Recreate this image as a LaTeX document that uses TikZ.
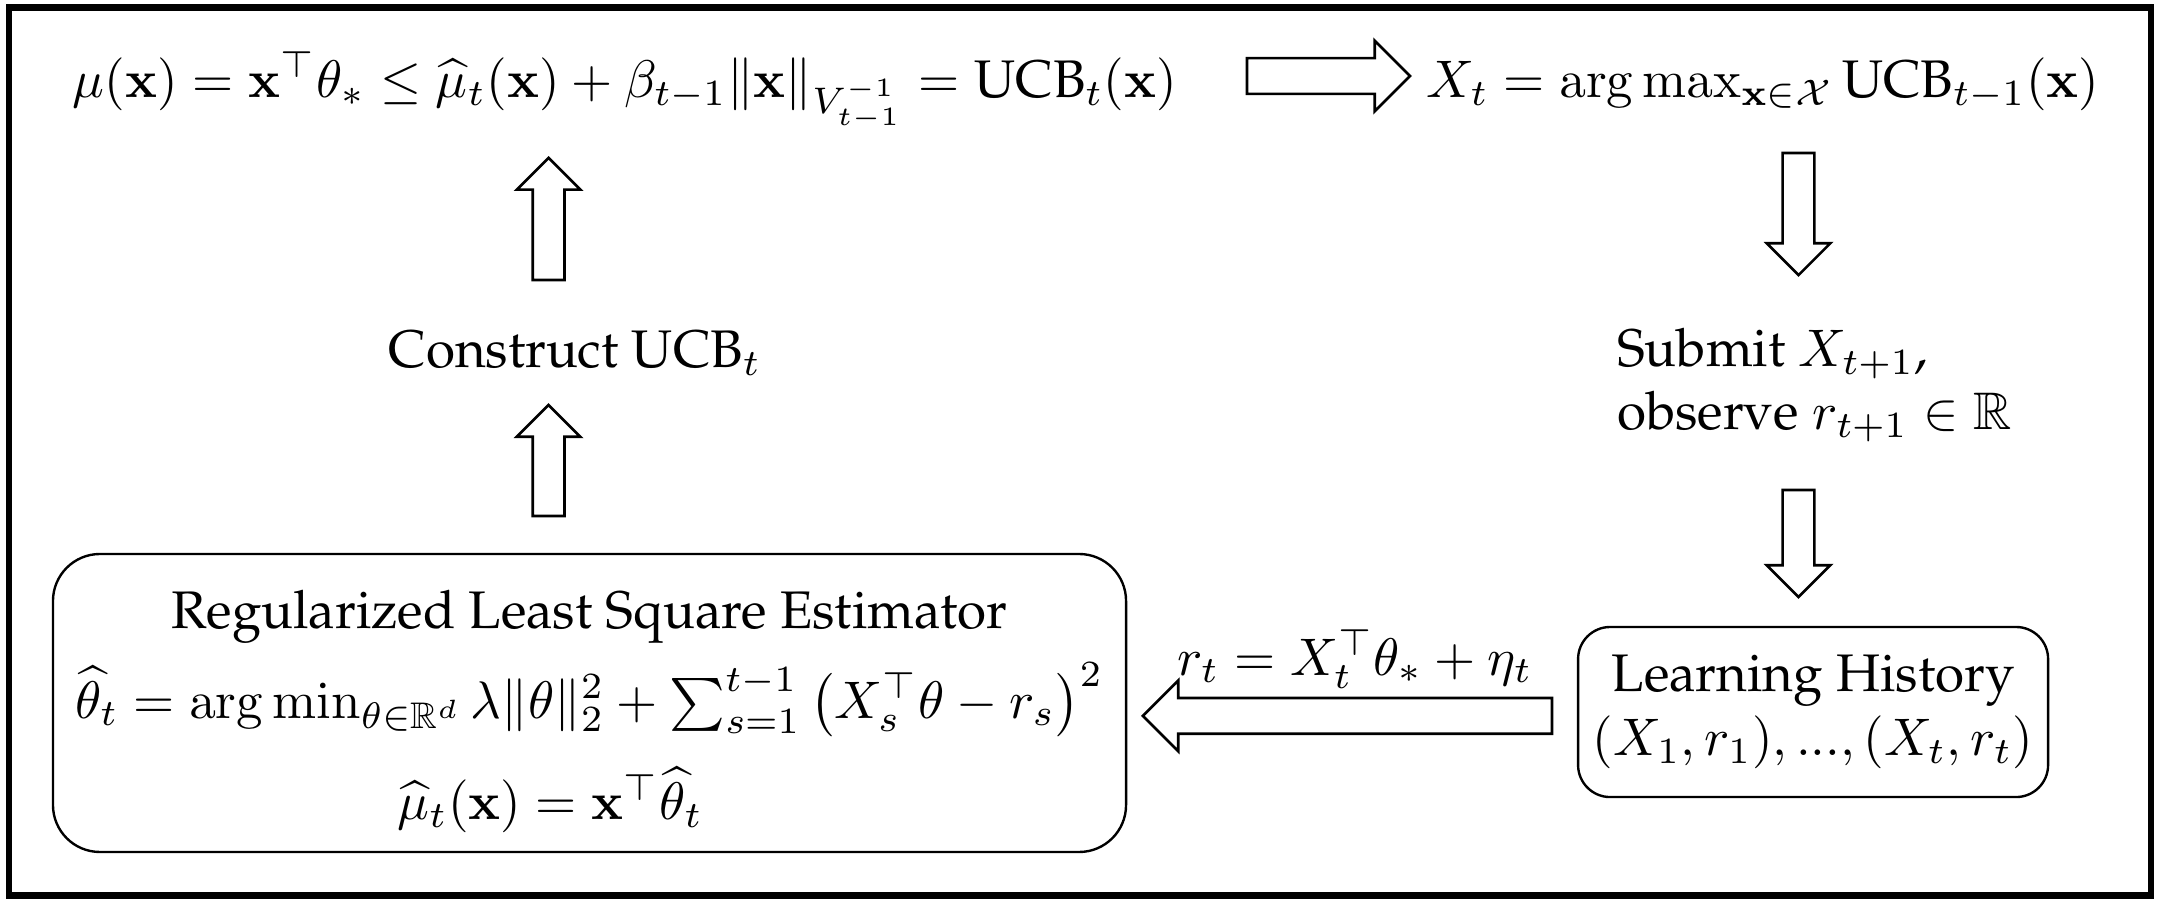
\documentclass[tikz,border=0pt]{standalone}
\usepackage{amsmath, amssymb}
\usepackage[T1]{fontenc}
\renewcommand{\rmdefault}{ppl}
\usepackage{tikz}
\usetikzlibrary{calc, shapes.arrows}

\begin{document}
\begin{tikzpicture}[
    fatarrow/.style={draw, line width=0.5pt, single arrow, single arrow head extend=0.106cm,
                     inner xsep=0pt, inner ysep=0.0965cm, outer sep=0pt, anchor=tail},
    widearrow/.style={fatarrow, inner ysep=0.110cm, single arrow head extend=0.116cm},
    roundbox/.style={draw, line width=0.45pt, rounded corners=#1, inner sep=0pt}
  ]
  % Frame
  \useasboundingbox (0,0) rectangle (14.352,6.0);
  \draw[line width=1.2pt] (0.06,0.05) rectangle (14.29,5.95);

  % Top row
  \node[anchor=base] (ucb) at (4.153,5.355)
    {$\mu(\mathbf{x}) = \mathbf{x}^\top\theta_* \le \widehat{\mu}_t(\mathbf{x}) + \beta_{t-1}\|\mathbf{x}\|_{V_{t-1}^{-1}} = \text{UCB}_t(\mathbf{x})$};
  \node[anchor=base] (argmax) at (11.714,5.355)
    {$X_t = \arg\max_{\mathbf{x}\in\mathcal{X}} \text{UCB}_{t-1}(\mathbf{x})$};

  % Middle row
  \node[anchor=base] (construct) at (3.821,3.561) {Construct UCB$_t$};
  \node[anchor=base west, align=left, inner xsep=0pt] (submit) at (10.738,3.143)
    {Submit $X_{t+1}$,\\ observe $r_{t+1}\in\mathbb{R}$};

  % Estimator box
  \node[roundbox=0.312cm, minimum width=7.13cm, minimum height=1.98cm] (reg) at (3.917,1.329) {};
  \node[anchor=base] (regtitle) at ($(reg.center)+(0,0.498)$) {Regularized Least Square Estimator};
  \node[anchor=base] (regmin) at ($(reg.center)+(0,-0.100)$)
    {$\widehat{\theta}_t = \arg\min_{\theta\in\mathbb{R}^d} \lambda\|\theta\|_2^2 + \sum_{s=1}^{t-1}\left(X_s^\top\theta - r_s\right)^2$};
  \node[anchor=base] (regmu) at ($(reg.center)+(-0.26,-0.777)$)
    {$\widehat{\mu}_t(\mathbf{x}) = \mathbf{x}^\top\widehat{\theta}_t$};

  % History box
  \node[roundbox=0.213cm, minimum width=3.123cm, minimum height=1.13cm, align=center] (hist) at (12.047,1.269)
    {Learning History\\ $(X_1,r_1),...,(X_t,r_t)$};
  \node[anchor=base] (reward) at (9.003,1.515) {$r_t = X_t^\top\theta_* + \eta_t$};

  % Block arrows (placed by their tails)
  \node[widearrow, minimum height=1.083cm] (toargmax) at (8.286,5.495) {};
  \node[widearrow, minimum height=2.718cm, rotate=180] (toreg) at (10.312,1.243) {};
  \foreach \name/\x/\y/\len/\ang in {up1/3.645/4.140/0.811/90, up2/3.645/2.571/0.738/90,
                                     down1/11.950/4.983/0.811/-90, down2/11.950/2.744/0.711/-90} {
    \node[fatarrow, minimum height=\len cm, rotate=\ang] (\name) at (\x,\y) {};
  }
\end{tikzpicture}
\end{document}
